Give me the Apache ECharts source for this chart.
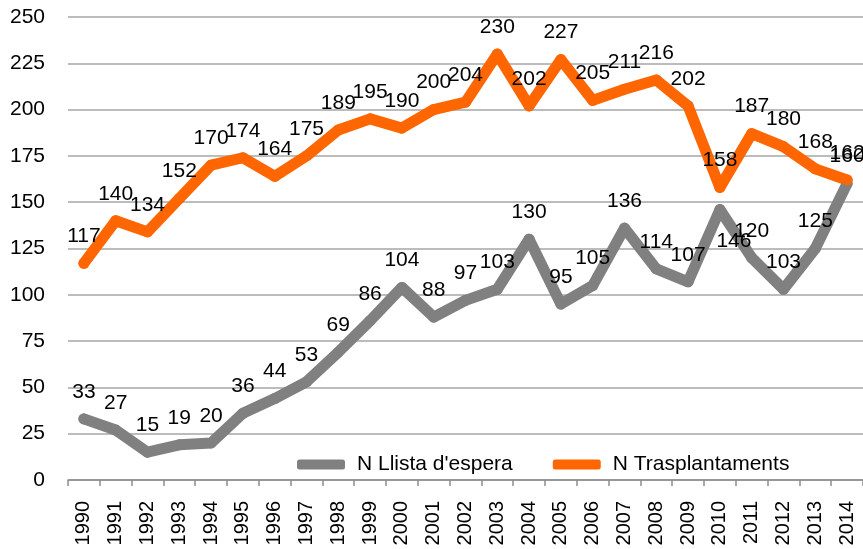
<!DOCTYPE html>
<html>
<head>
<meta charset="utf-8">
<script src="https://cdn.jsdelivr.net/npm/echarts@6/dist/echarts.min.js"></script>
<style>
  html, body { margin: 0; padding: 0; background: #fff; }
  #chart { width: 863px; height: 549px; }
</style>
</head>
<body>
<div id="chart"></div>
<script>
// dades
var years = ["1990", "1991", "1992", "1993", "1994", "1995", "1996", "1997", "1998", "1999",
    "2000", "2001", "2002", "2003", "2004", "2005", "2006", "2007", "2008", "2009",
    "2010", "2011", "2012", "2013", "2014"];
var llistaEspera = [33, 27, 15, 19, 20, 36, 44, 53, 69, 86, 104, 88, 97, 103, 130, 95, 105, 136, 114, 107, 146, 120, 103, 125, 160];
var trasplantaments = [117, 140, 134, 152, 170, 174, 164, 175, 189, 195, 190, 200, 204, 230, 202, 227, 205, 211, 216, 202, 158, 187, 180, 168, 162];

var font = "'Liberation Sans', Arial, sans-serif";

window.addEventListener("load", function () {
    var myChart = echarts.init(document.getElementById("chart"));

    // l'etiqueta de 2010 (146) va a sota a la dreta
    var grayData = llistaEspera.map(function (v, i) {
        if (years[i] === "2010") {
            return { value: v, label: { position: "bottom", distance: 16, offset: [14, 0] } };
        }
        return v;
    });

    var dataLabel = {
        show: true,
        position: "top",
        distance: 11,
        color: "#000",
        fontFamily: font,
        fontSize: 21
    };

    var option = {
        animation: false,
        grid: {
            top: 17,
            left: 68,
            right: 0,
            bottom: 69
        },
        legend: {
            left: 292,
            top: 449,
            icon: "roundRect",
            itemWidth: 48,
            itemHeight: 10,
            itemGap: 40,
            textStyle: { fontFamily: font, fontSize: 21, color: "#000", padding: [0, 0, 0, 7] },
            data: ["N Llista d'espera", "N Trasplantaments"]
        },
        xAxis: {
            type: "category",
            data: years,
            boundaryGap: true,
            axisLine: { lineStyle: { color: "#8c8c8c", width: 1.5 } },
            axisTick: { show: true, length: 6, lineStyle: { color: "#8c8c8c", width: 1.5 } },
            axisLabel: {
                rotate: 90,
                interval: 0,
                margin: 21,
                color: "#000",
                fontFamily: font,
                fontSize: 20
            }
        },
        yAxis: {
            type: "value",
            min: 0,
            max: 250,
            interval: 25,
            axisLine: { show: false },
            axisTick: { show: false },
            axisLabel: {
                margin: 23,
                color: "#000",
                fontFamily: font,
                fontSize: 21
            },
            splitLine: { lineStyle: { color: "#a6a6a6", width: 1.5 } }
        },
        series: [
            {
                name: "N Llista d'espera",
                type: "line",
                data: grayData,
                symbol: "circle",
                symbolSize: 11,
                color: "#808080",
                itemStyle: { borderWidth: 0 },
                lineStyle: { width: 11, cap: "round", join: "round" },
                label: dataLabel
            },
            {
                name: "N Trasplantaments",
                type: "line",
                data: trasplantaments,
                symbol: "circle",
                symbolSize: 11,
                color: "#ff6600",
                itemStyle: { borderWidth: 0 },
                lineStyle: { width: 11, cap: "round", join: "round" },
                label: dataLabel
            }
        ]
    };

    myChart.setOption(option);
    window.addEventListener("resize", function () {
        myChart.resize();
    });
});
</script>
</body>
</html>
